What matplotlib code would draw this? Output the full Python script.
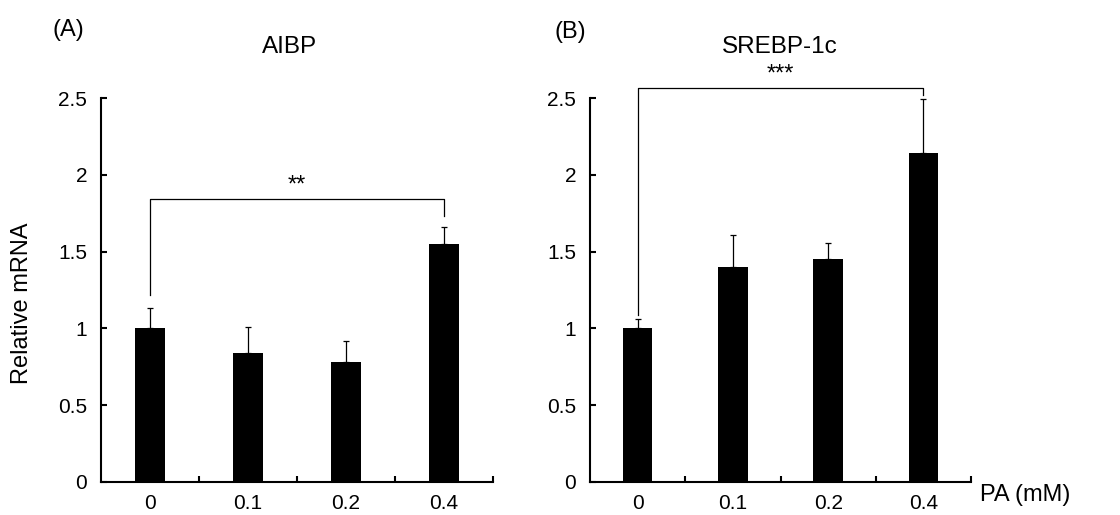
import matplotlib
matplotlib.use('Agg')
import matplotlib.pyplot as plt
import numpy as np

plt.rcParams['font.family'] = ['Liberation Sans', 'DejaVu Sans']

# --- DATA ---
dosis = ['0', '0.1', '0.2', '0.4']

aibp_media = [1.00, 0.84, 0.78, 1.55]
aibp_err = [0.13, 0.17, 0.14, 0.11]

srebp_media = [1.00, 1.40, 1.45, 2.14]
srebp_err = [0.06, 0.21, 0.105, 0.355]

# bracket: (height, left foot, right foot, label, label y)
aibp_sig = (1.84, 1.22, 1.73, '**', 1.93)
srebp_sig = (2.565, 1.09, 2.52, '***', 2.65)

y_ticks = [0, 0.5, 1, 1.5, 2, 2.5]
y_tick_labels = ['0', '0.5', '1', '1.5', '2', '2.5']


def panel(ax, medias, errs, sig):
    x = np.arange(len(dosis))
    ax.bar(x, medias, width=0.31, color='black', zorder=2)
    ax.errorbar(x, medias, yerr=[np.zeros(len(errs)), errs], fmt='none',
                ecolor='black', elinewidth=0.9, capsize=2.5, capthick=0.9, zorder=1)

    ax.set_xlim(-0.5, len(dosis) - 0.5)
    ax.set_ylim(0, 2.5)
    ax.set_yticks(y_ticks)
    ax.set_yticklabels(y_tick_labels)
    ax.set_xticks(x)
    ax.set_xticklabels(dosis)
    ax.set_xticks(np.arange(len(dosis)) + 0.5, minor=True)

    for s in ['top', 'right']:
        ax.spines[s].set_visible(False)
    for s in ['left', 'bottom']:
        ax.spines[s].set_linewidth(1.5)

    ax.tick_params(axis='y', direction='in', length=4, width=1.5, labelsize=15, pad=10)
    ax.tick_params(axis='x', which='major', length=0, labelsize=15, pad=9)
    ax.tick_params(axis='x', which='minor', direction='in', length=4, width=1.5)

    # significance bracket
    h, pie_izq, pie_der, txt, ty = sig
    ax.plot([0, 0, 3, 3], [pie_izq, h, h, pie_der], color='black', lw=0.9, clip_on=False)
    ax.text(1.5, ty, txt, ha='center', va='center', fontsize=17, clip_on=False)


fig = plt.figure(figsize=(11.2, 5.15), dpi=100)
ax1 = fig.add_axes([0.0902, 0.0641, 0.35, 0.7456])
ax2 = fig.add_axes([0.5268, 0.0641, 0.3402, 0.7456])

panel(ax1, aibp_media, aibp_err, aibp_sig)
panel(ax2, srebp_media, srebp_err, srebp_sig)

fig.text(0.047, 0.942, '(A)', fontsize=17, ha='left', va='center')
fig.text(0.495, 0.938, '(B)', fontsize=17, ha='left', va='center')
fig.text(290 / 1120, 1 - 47 / 515, 'AIBP', fontsize=17.5, ha='center', va='center')
fig.text(780 / 1120, 1 - 47 / 515, 'SREBP-1c', fontsize=17.5, ha='center', va='center')
fig.text(22 / 1120, 1 - 303 / 515, 'Relative mRNA', fontsize=17, rotation=90,
         ha='center', va='center')
fig.text(980 / 1120, 1 - 495 / 515, 'PA (mM)', fontsize=17, ha='left', va='center')

fig.savefig('out.png', dpi=100)
